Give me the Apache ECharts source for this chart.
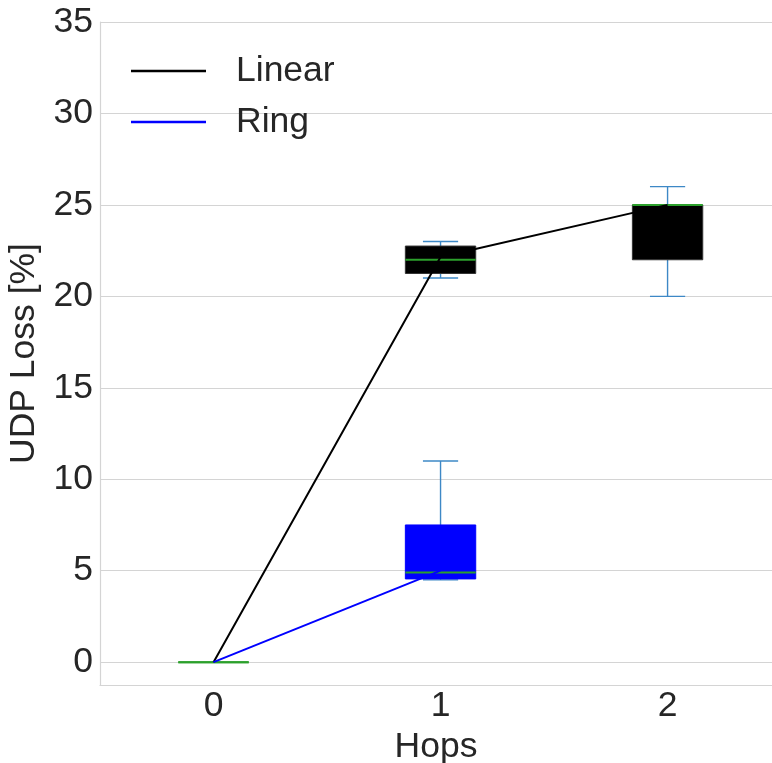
<!DOCTYPE html>
<html>
<head>
<meta charset="utf-8">
<script src="https://cdn.jsdelivr.net/npm/echarts@6/dist/echarts.min.js"></script>
<style>
  html, body { margin: 0; padding: 0; background: #ffffff; }
  #chart { width: 772px; height: 763px; }
</style>
</head>
<body>
<div id="chart"></div>
<script>
// Hop counts on the x axis
const hops = [0, 1, 2];
const yTicks = [0, 5, 10, 15, 20, 25, 30, 35];

// Box statistics per hop: [hop, min, q1, median, q3, max]
const linearBoxes = [
  [0, 0, 0, 0, 0, 0],
  [1, 21, 21.25, 22, 22.75, 23],
  [2, 20, 22, 25, 25, 26]
];
const ringBoxes = [
  [0, 0, 0, 0, 0, 0],
  [1, 4.5, 4.55, 4.9, 7.5, 11]
];

// Mean loss per hop, joined by lines
const linearMean = [0, 22.15, 25.0];
const ringMean = [0, 5.0];

const FONT = 'Liberation Sans';
const FS = 35.5;
const TEXT = '#262626';
const GRID = '#d4d4d4';
const WHISKER = '#3d88c6';
const MEDIAN = '#2ca02c';
const BOX_W = 0.31;

function boxRenderer(fill) {
  return function (params, api) {
    const x = api.value(0);
    const pMin = api.coord([x, api.value(1)]);
    const pQ1 = api.coord([x, api.value(2)]);
    const pMed = api.coord([x, api.value(3)]);
    const pQ3 = api.coord([x, api.value(4)]);
    const pMax = api.coord([x, api.value(5)]);
    const half = api.size([BOX_W, 0])[0] / 2;
    const cap = half / 2;
    const cx = pMed[0];
    const wl = { stroke: WHISKER, lineWidth: 1.4 };
    const children = [];
    const boxH = pQ1[1] - pQ3[1];
    if (boxH > 0.5 || pMax[1] < pQ3[1] - 0.5 || pMin[1] > pQ1[1] + 0.5) {
      children.push(
        { type: 'line', shape: { x1: cx, y1: pQ3[1], x2: cx, y2: pMax[1] }, style: wl },
        { type: 'line', shape: { x1: cx, y1: pQ1[1], x2: cx, y2: pMin[1] }, style: wl },
        { type: 'line', shape: { x1: cx - cap, y1: pMax[1], x2: cx + cap, y2: pMax[1] }, style: wl },
        { type: 'line', shape: { x1: cx - cap, y1: pMin[1], x2: cx + cap, y2: pMin[1] }, style: wl },
        {
          type: 'rect',
          shape: { x: cx - half, y: pQ3[1], width: half * 2, height: boxH },
          style: { fill: fill, stroke: fill === '#000000' ? '#333333' : fill, lineWidth: 1 }
        }
      );
    }
    children.push({
      type: 'line',
      shape: { x1: cx - half, y1: pMed[1], x2: cx + half, y2: pMed[1] },
      style: { stroke: MEDIAN, lineWidth: 2 }
    });
    return { type: 'group', children: children };
  };
}

const chart = echarts.init(document.getElementById('chart'), null, { renderer: 'canvas' });

chart.setOption({
  backgroundColor: '#ffffff',
  animation: false,
  textStyle: { fontFamily: FONT, color: TEXT },
  grid: { left: 100, right: 0, top: 22, bottom: 78, containLabel: false, outerBoundsMode: 'none' },
  legend: {
    orient: 'vertical',
    left: 131,
    top: 51,
    padding: 0,
    icon: 'rect',
    itemWidth: 75,
    itemHeight: 2.5,
    itemGap: 11,
    data: ['Linear', 'Ring'],
    textStyle: { fontFamily: FONT, fontSize: FS, color: TEXT, lineHeight: 40, padding: [0, 0, 0, 25] }
  },
  xAxis: {
    type: 'value',
    min: -0.5,
    max: 2.46,
    name: 'Hops',
    nameLocation: 'middle',
    nameGap: 35,
    nameTextStyle: { fontFamily: FONT, fontSize: FS, color: TEXT },
    axisLine: { show: true, onZero: false, lineStyle: { color: GRID, width: 1.2 } },
    axisTick: { show: false, customValues: hops },
    axisLabel: { customValues: hops, fontFamily: FONT, fontSize: FS, color: TEXT, margin: 3 },
    splitLine: { show: false }
  },
  yAxis: {
    type: 'value',
    min: -1.25,
    max: 35,
    name: 'UDP Loss [%]',
    nameLocation: 'middle',
    nameGap: 56,
    nameTextStyle: { fontFamily: FONT, fontSize: FS, color: TEXT },
    axisLine: { show: true, onZero: false, lineStyle: { color: GRID, width: 1.2 } },
    axisTick: { show: false, customValues: yTicks },
    axisLabel: { customValues: yTicks, fontFamily: FONT, fontSize: FS, color: TEXT, margin: 7 },
    splitLine: { show: false }
  },
  series: [
    {
      // horizontal grid lines at the tick values, kept beneath the marks
      type: 'line',
      data: [],
      silent: true,
      z: 0,
      markLine: {
        z: 0,
        silent: true,
        symbol: 'none',
        label: { show: false },
        lineStyle: { color: GRID, width: 1.2, type: 'solid' },
        data: yTicks.map(v => ({ yAxis: v }))
      }
    },
    {
      name: 'LinearBox',
      type: 'custom',
      renderItem: boxRenderer('#000000'),
      encode: { x: 0, y: [1, 2, 3, 4, 5] },
      data: linearBoxes,
      z: 2
    },
    {
      name: 'RingBox',
      type: 'custom',
      renderItem: boxRenderer('#0000ff'),
      encode: { x: 0, y: [1, 2, 3, 4, 5] },
      data: ringBoxes,
      z: 2
    },
    {
      name: 'Linear',
      type: 'line',
      symbol: 'none',
      color: '#000000',
      lineStyle: { color: '#000000', width: 2 },
      data: hops.map((h, i) => [h, linearMean[i]]),
      z: 3
    },
    {
      name: 'Ring',
      type: 'line',
      symbol: 'none',
      color: '#0000ff',
      lineStyle: { color: '#0000ff', width: 2 },
      data: ringMean.map((v, i) => [hops[i], v]),
      z: 3
    }
  ]
});
</script>
</body>
</html>
